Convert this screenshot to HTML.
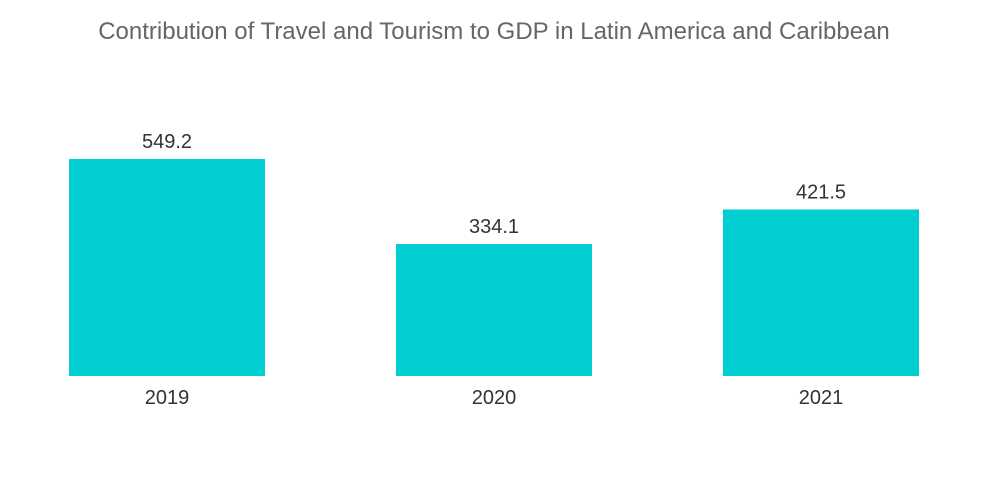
<!DOCTYPE html>
<html><head><meta charset="utf-8"><style>
html,body{margin:0;padding:0;background:#fff;width:1000px;height:504px;overflow:hidden;font-family:"Liberation Sans",sans-serif;}
</style></head><body>
<svg width="1000" height="504">
<text x="494" y="39" text-anchor="middle" font-size="24" fill="#666">Contribution of Travel and Tourism to GDP in Latin America and Caribbean</text>
<g id="bars"></g>
</svg>
<script>
const categories = ["2019","2020","2021"];
const values = [549.2, 334.1, 421.5];
const labels = ["549.2","334.1","421.5"];
const baseY = 376, scale = 217/549.2;
const y = v => baseY - v*scale;
const x = i => 69 + i*327;
const bw = 196;
const g = document.getElementById('bars');
const ns = "http://www.w3.org/2000/svg";
values.forEach((v,i)=>{
  const r = document.createElementNS(ns,'rect');
  r.setAttribute('x',x(i));r.setAttribute('y',y(v));r.setAttribute('width',bw);r.setAttribute('height',baseY-y(v));r.setAttribute('fill','#00CED1');
  
  
  g.appendChild(r);
  const t = document.createElementNS(ns,'text');
  t.setAttribute('x',x(i)+bw/2);t.setAttribute('y',y(v)-11);t.setAttribute('text-anchor','middle');t.setAttribute('font-size','20');t.setAttribute('fill','#333');
  t.textContent = labels[i];
  
  
  g.appendChild(t);
  const c = document.createElementNS(ns,'text');
  c.setAttribute('x',x(i)+bw/2);c.setAttribute('y',404);c.setAttribute('text-anchor','middle');c.setAttribute('font-size','20');c.setAttribute('fill','#333');
  c.textContent = categories[i];
  
  
  g.appendChild(c);
});
</script>
</body></html>
